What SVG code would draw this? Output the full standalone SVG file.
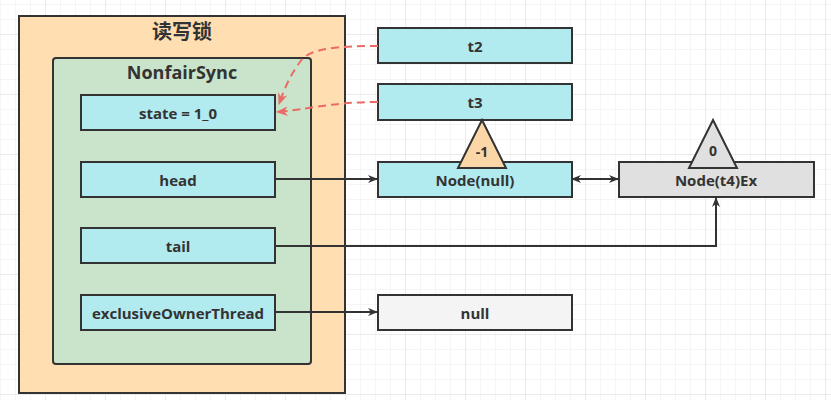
<svg xmlns="http://www.w3.org/2000/svg" width="831" height="400" viewBox="0 0 831 400">
<defs>
<pattern id="g" x="0" y="4" width="15" height="15" patternUnits="userSpaceOnUse"><path d="M0 0H15M0 0V15" stroke="#ececec" stroke-width="1" fill="none"/></pattern>
<pattern id="G" x="45" y="34" width="60" height="60" patternUnits="userSpaceOnUse"><path d="M0 0H60M0 0V60" stroke="#e2e2e2" stroke-width="1" fill="none"/></pattern>
<marker id="a" viewBox="0 0 10 10" refX="9" refY="5" markerWidth="10" markerHeight="10" markerUnits="userSpaceOnUse" orient="auto-start-reverse"><path d="M0 1L10 5L0 9L3 5Z" fill="#333"/></marker>
<marker id="r" viewBox="0 0 10 10" refX="9" refY="5" markerWidth="12" markerHeight="12" markerUnits="userSpaceOnUse" orient="auto"><path d="M0 1L10 5L0 9L3 5Z" fill="#ea6b66"/></marker>
</defs>
<style>
.t{font-family:"Open Sans","Noto Sans","Noto Sans CJK SC",sans-serif;font-weight:bold;fill:#333;text-anchor:middle;dominant-baseline:central}
.b{fill:#b1eaef;stroke:#333;stroke-width:2}
.gr{fill:#f4f4f4;stroke:#333;stroke-width:2}
.gy{fill:#e0e0e0;stroke:#333;stroke-width:2}
.tri{fill:#fbd7a7;stroke:#333;stroke-width:2}
.c{fill:none;stroke:#333;stroke-width:2}
.d{fill:none;stroke:#ea6b66;stroke-width:2;stroke-dasharray:8 5}
</style>
<rect width="831" height="400" fill="#fff"/>
<rect width="831" height="400" fill="url(#g)"/>
<rect width="831" height="400" fill="url(#G)"/>
<g id="rwlock"><rect x="19" y="16" width="326" height="377" fill="#ffdfb1" stroke="#333" stroke-width="2"/><text class="t" x="182" y="31" font-size="20">读写锁</text></g>
<g id="nonfairsync"><rect x="53" y="58" width="258" height="306" rx="3" fill="#c9e4ca" stroke="#333" stroke-width="2"/><text class="t" x="182" y="72" font-size="18">NonfairSync</text></g>
<g id="state"><rect class="b" x="81" y="95" width="194" height="35"/><text class="t" x="178" y="113" font-size="15">state = 1_0</text></g>
<g id="head"><rect class="b" x="81" y="162" width="194" height="35"/><text class="t" x="178" y="180" font-size="15">head</text></g>
<g id="tail"><rect class="b" x="81" y="228" width="194" height="35"/><text class="t" x="178" y="246" font-size="15">tail</text></g>
<g id="owner"><rect class="b" x="81" y="295" width="194" height="35"/><text class="t" x="178" y="313" font-size="15">exclusiveOwnerThread</text></g>
<g id="t2"><rect class="b" x="378" y="28" width="194" height="35"/><text class="t" x="475" y="46" font-size="15">t2</text></g>
<g id="t3"><rect class="b" x="378" y="84" width="194" height="36"/><text class="t" x="475" y="102" font-size="15">t3</text></g>
<g id="nodenull"><rect class="b" x="378" y="162" width="194" height="35"/><text class="t" x="475" y="180" font-size="15">Node(null)</text></g>
<g id="tri1"><path class="tri" d="M482 120L506 168H458Z"/><text class="t" x="482" y="151" font-size="14">-1</text></g>
<g id="nodet4"><rect class="gy" x="619" y="162" width="195" height="35"/><text class="t" x="716" y="180" font-size="15">Node(t4)Ex</text></g>
<g id="tri0"><path class="tri" style="fill:#e0e0e0" d="M713 120L737 168H689Z"/><text class="t" x="713" y="150" font-size="14">0</text></g>
<g id="null"><rect class="gr" x="378" y="295" width="194" height="35"/><text class="t" x="475" y="313" font-size="15">null</text></g>
<g id="connectors">
<path class="c" d="M275 179H377" marker-end="url(#a)"/>
<path class="c" d="M572 179H618" marker-start="url(#a)" marker-end="url(#a)"/>
<path class="c" d="M275 246H716V198" marker-end="url(#a)"/>
<path class="c" d="M275 312H377" marker-end="url(#a)"/>
<path class="d" d="M378 46C340 46 308 48 300 62C290 75 284 90 279 104" marker-end="url(#r)"/>
<path class="d" d="M378 102C330 102 305 110 277 112" marker-end="url(#r)"/>
</g>
</svg>
